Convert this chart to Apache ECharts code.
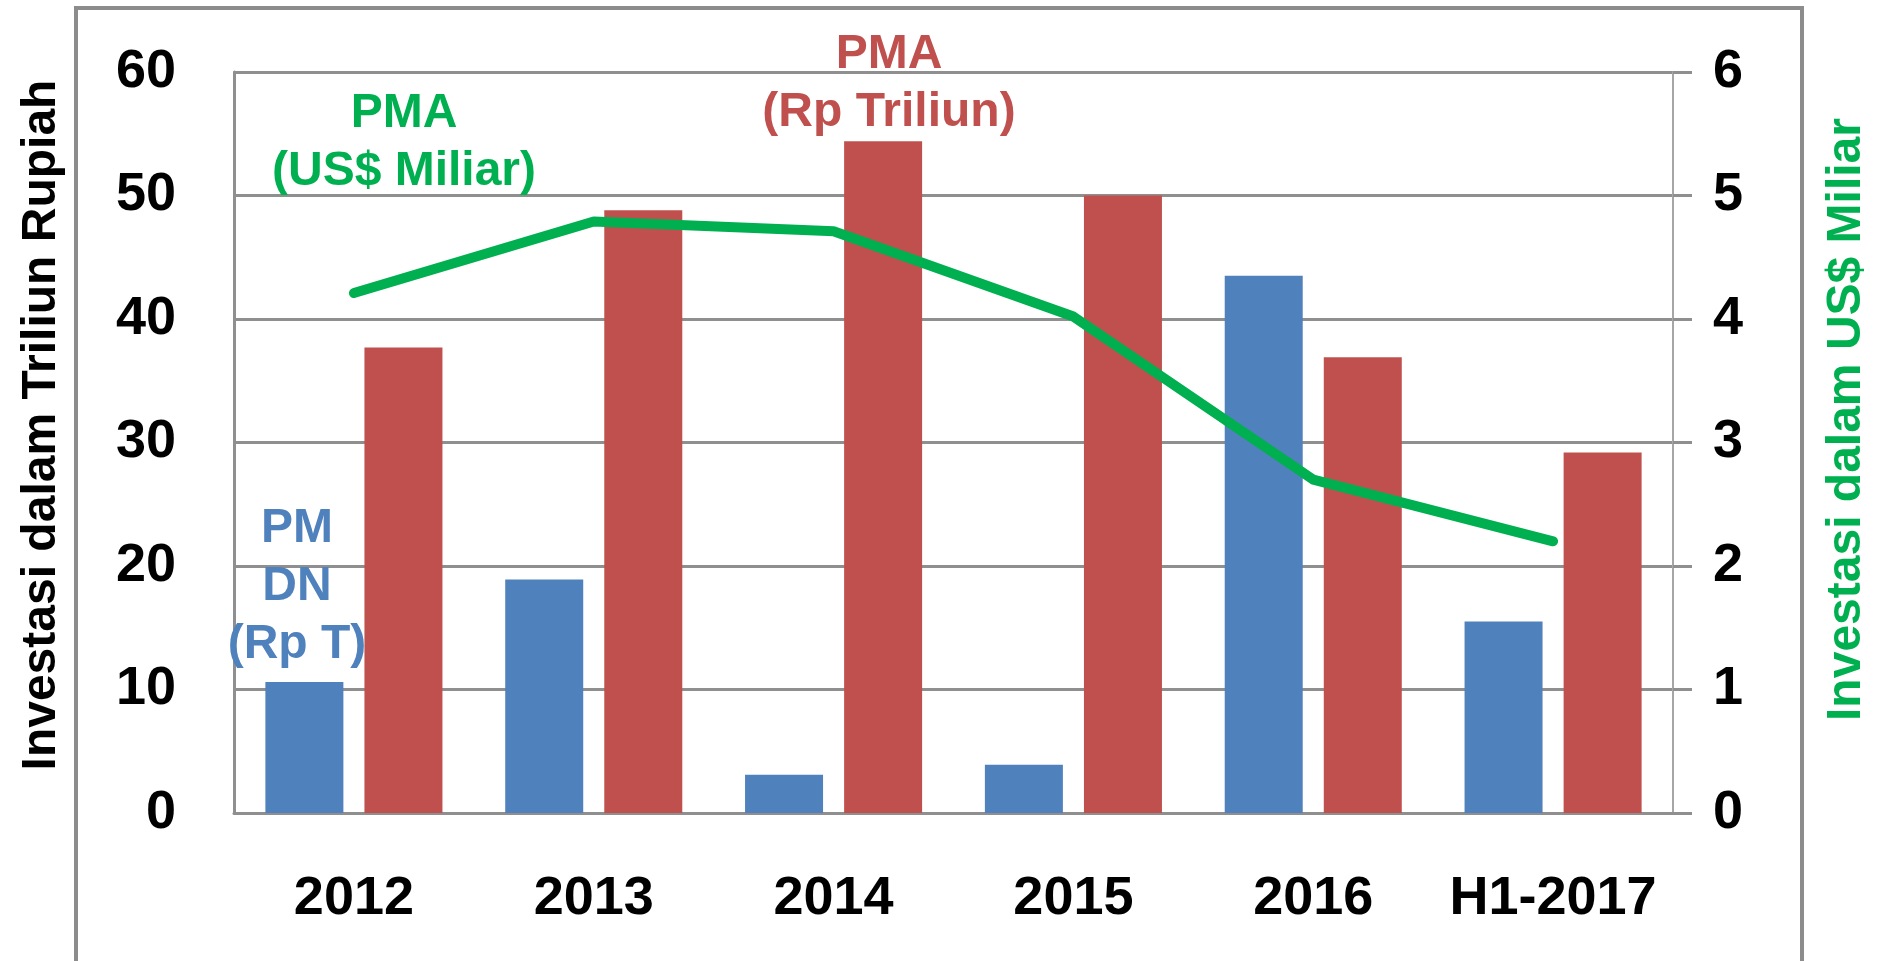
<!DOCTYPE html>
<html>
<head>
<meta charset="utf-8">
<title>Investasi PMDN dan PMA</title>
<script src="https://cdn.jsdelivr.net/npm/echarts@6/dist/echarts.min.js"></script>
<style>
  html, body { margin: 0; padding: 0; background: #fff; }
  #chart { width: 1879px; height: 961px; }
</style>
</head>
<body>
<div id="chart"></div>
<script>
// data
const categories = ['2012', '2013', '2014', '2015', '2016', 'H1-2017'];
const pmdnRp = [10.6, 18.9, 3.1, 3.9, 43.5, 15.5];     // PMDN (Rp Triliun)
const pmaRp = [37.7, 48.8, 54.4, 50.0, 36.9, 29.2];    // PMA (Rp Triliun)
const pmaUsd = [4.21, 4.79, 4.71, 4.02, 2.70, 2.20];   // PMA (US$ Miliar)

const leftTicks = [0, 10, 20, 30, 40, 50, 60];
const rightTicks = [0, 1, 2, 3, 4, 5, 6];

const BLUE = '#4F81BD';
const RED = '#C0504D';
const GREEN = '#00B050';
const GRID_GRAY = '#8f8f8f';
const FONT = 'Liberation Sans, Arial, sans-serif';

const chart = echarts.init(document.getElementById('chart'));

const option = {
  animation: false,
  grid: { left: 234, right: 206, top: 72, bottom: 148 },
  xAxis: {
    type: 'category',
    data: categories,
    axisLine: { show: true, lineStyle: { color: GRID_GRAY, width: 3 } },
    axisTick: { show: false },
    axisLabel: {
      interval: 0,
      color: '#000', fontSize: 54, fontWeight: 'bold', fontFamily: FONT, margin: 59
    }
  },
  yAxis: [
    {
      type: 'value',
      min: leftTicks[0],
      max: leftTicks[leftTicks.length - 1],
      interval: leftTicks[1] - leftTicks[0],
      name: 'Investasi dalam Triliun Rupiah',
      nameLocation: 'middle',
      nameRotate: 90,
      nameGap: 168,
      nameTextStyle: {
        color: '#000', fontSize: 48, fontWeight: 'bold', fontFamily: FONT,
        padding: [0, 0, 0, 35]
      },
      axisLine: { show: true, lineStyle: { color: GRID_GRAY, width: 3 } },
      axisTick: { show: false },
      axisLabel: {
        color: '#000', fontSize: 54, fontWeight: 'bold', fontFamily: FONT, margin: 58
      },
      splitLine: { show: true, lineStyle: { color: GRID_GRAY, width: 3 } }
    },
    {
      type: 'value',
      position: 'right',
      min: rightTicks[0],
      max: rightTicks[rightTicks.length - 1],
      interval: rightTicks[1] - rightTicks[0],
      name: 'Investasi dalam US$ Miliar',
      nameLocation: 'middle',
      nameRotate: 90,
      nameGap: 150,
      nameTextStyle: {
        color: GREEN, fontSize: 48, fontWeight: 'bold', fontFamily: FONT,
        padding: [0, 0, 0, 46]
      },
      axisLine: { show: true, lineStyle: { color: '#a6a6a6', width: 2 } },
      axisTick: { show: true, length: 19, lineStyle: { color: GRID_GRAY, width: 3 } },
      axisLabel: {
        color: '#000', fontSize: 54, fontWeight: 'bold', fontFamily: FONT, margin: 40
      },
      splitLine: { show: false }
    }
  ],
  series: [
    {
      name: 'PMDN (Rp T)',
      type: 'bar',
      data: pmdnRp,
      barWidth: 78,
      barGap: '27%',
      itemStyle: { color: BLUE }
    },
    {
      name: 'PMA (Rp Triliun)',
      type: 'bar',
      data: pmaRp,
      barWidth: 78,
      barGap: '27%',
      itemStyle: { color: RED }
    },
    {
      name: 'PMA (US$ Miliar)',
      type: 'line',
      yAxisIndex: 1,
      data: pmaUsd,
      symbol: 'none',
      lineStyle: { color: GREEN, width: 10, cap: 'round', join: 'round' },
      z: 5
    }
  ],
  graphic: [
    // outer frame of the slide
    {
      type: 'rect',
      shape: { x: 76, y: 8, width: 1726, height: 1000 },
      style: { fill: 'none', stroke: '#8c8c8c', lineWidth: 4 },
      silent: true
    },
    // series annotations
    {
      type: 'text',
      style: {
        text: 'PMA\n(US$ Miliar)', x: 404, y: 85,
        font: 'bold 48px ' + FONT, fill: GREEN,
        textAlign: 'center', textVerticalAlign: 'top', lineHeight: 58
      },
      z: 10
    },
    {
      type: 'text',
      style: {
        text: 'PMA\n(Rp Triliun)', x: 889, y: 26,
        font: 'bold 48px ' + FONT, fill: RED,
        textAlign: 'center', textVerticalAlign: 'top', lineHeight: 58
      },
      z: 10
    },
    {
      type: 'text',
      style: {
        text: 'PM\nDN\n(Rp T)', x: 297, y: 500,
        font: 'bold 48px ' + FONT, fill: BLUE,
        textAlign: 'center', textVerticalAlign: 'top', lineHeight: 58
      },
      z: 10
    }
  ]
};

chart.setOption(option);
</script>
</body>
</html>
